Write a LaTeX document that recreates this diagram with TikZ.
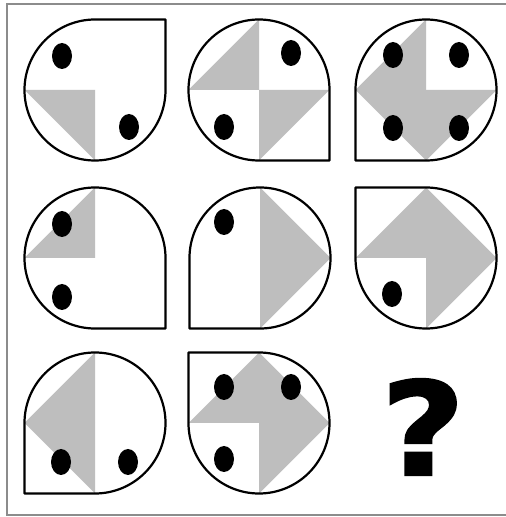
\documentclass[tikz,border=0pt]{standalone}
\usepackage{fontspec}
\newfontface\qface{DejaVu Sans Bold}[FakeBold=1.5]
\definecolor{tilegray}{RGB}{190,190,190}
\definecolor{framegray}{RGB}{140,140,140}
\tikzset{
  outline/.style={draw=black, line width=2.2pt, line join=round},
  grayfill/.style={fill=tilegray},
  dot/.style={fill=black},
}
\newcommand\Rad{70.5}
\newcommand\tile[4]{%
  \begin{scope}[shift={(#1,#2)}]
    \foreach \g in {#4} {\fill[grayfill] (0,0) -- (\g:\Rad) -- (\g+90:\Rad) -- cycle;}
    \draw[outline] (#3+90:\Rad) arc[start angle=#3+90, end angle=#3+360, radius=\Rad] -- ++(#3+90:\Rad) -- cycle;
  \end{scope}}
\newcommand\blob[2]{\fill[dot] (#1,#2) ellipse[x radius=10, y radius=13];}
\begin{document}
\begin{tikzpicture}[x=1pt,y=1pt]
\fill[white] (0,0) rectangle (506,517);
\useasboundingbox (0,0) rectangle (506,517);
% frame
\draw[framegray, line width=2.2pt] (506,513) -- (7,513) -- (7,2) -- (506,2);
% row 1
\tile{95}{427}{0}{180}
\blob{62}{461}\blob{129}{390}
\tile{259}{427}{270}{90,270}
\blob{291}{464}\blob{224}{390}
\tile{426}{427}{180}{90,180,270}
\blob{393}{462}\blob{459}{462}\blob{393}{389}\blob{459}{389}
% row 2
\tile{95}{259}{270}{90}
\blob{62}{293}\blob{62}{220}
\tile{260}{259}{180}{0,270}
\blob{224}{295}
\tile{426}{259}{90}{0,90,270}
\blob{392}{223}
% row 3
\tile{95}{94}{180}{90,180}
\blob{61}{55}\blob{128}{55}
\tile{259}{94}{90}{0,90,270}
\blob{224}{130}\blob{291}{130}\blob{224}{58}
\node[inner sep=0pt, xscale=1.12, font=\qface\fontsize{130}{130}\selectfont] (q) at (423,90) {?};
\end{tikzpicture}
\end{document}
